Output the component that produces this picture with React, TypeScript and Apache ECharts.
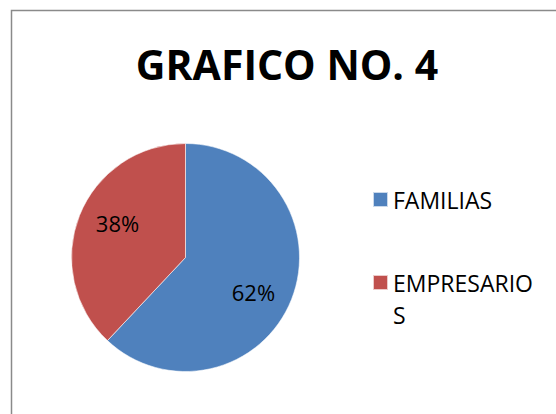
import React, { useEffect, useRef } from "react";
import * as echarts from "echarts";

const titleText = "GRAFICO NO. 4";
const categories = ["FAMILIAS", "EMPRESARIOS"];
const values = [62, 38];
const colors = ["#4F81BD", "#C0504D"];

export default function App() {
  const ref = useRef<HTMLDivElement>(null);
  useEffect(() => {
    if (!ref.current) return;
    const chart = echarts.init(ref.current, undefined, { renderer: "svg" });
    const data = categories.map((name, i) => ({ name, value: values[i], itemStyle: { color: colors[i] } }));
    const font = "'Open Sans', sans-serif";
    chart.setOption({
      animation: false,
      backgroundColor: "#ffffff",
      graphic: [
        {
          type: "rect",
          shape: { x: 11.5, y: 10.5, width: 700, height: 600 },
          style: { fill: "none", stroke: "#8a8a8a", lineWidth: 1.5 },
          silent: true,
        },
        {
          type: "text",
          x: 287,
          y: 64,
          style: {
            text: titleText,
            fontFamily: font,
            fontWeight: "bold",
            fontSize: 41,
            fill: "#000",
            align: "center",
            verticalAlign: "middle",
          },
        },
      ],
      legend: [
        {
          data: [{ name: categories[0], itemStyle: { color: colors[0] } }],
          orient: "vertical",
          left: 372,
          top: 188,
          padding: 0,
          itemWidth: 15,
          itemHeight: 15,
          icon: "rect",
          selectedMode: false,
          textStyle: { fontFamily: font, fontSize: 23, color: "#000" },
        },
        {
          data: [{ name: categories[1], itemStyle: { color: colors[1] } }],
          orient: "vertical",
          left: 372,
          top: 234.5,
          padding: 0,
          itemWidth: 15,
          itemHeight: 15,
          icon: "rect",
          selectedMode: false,
          formatter: (n: string) => "\n" + n.slice(0, 10) + "\n" + n.slice(10),
          textStyle: {
            fontFamily: font,
            fontSize: 23,
            color: "#000",
            lineHeight: 32,
          },
        },
      ],
      series: [
        {
          type: "pie",
          center: [185.5, 257.5],
          radius: [0, 114],
          startAngle: 90,
          clockwise: true,
          silent: true,
          label: { show: false },
          labelLine: { show: false },
          itemStyle: { borderColor: "rgba(255,255,255,0.7)", borderWidth: 0.8 },
          data,
        },
        {
          type: "pie",
          center: [185.5, 257.5],
          radius: [32, 114],
          startAngle: 85,
          clockwise: true,
          silent: true,
          labelLine: { show: false },
          itemStyle: { color: "transparent", borderWidth: 0 },
          label: {
            show: true,
            position: "inside",
            formatter: "{c}%",
            fontFamily: font,
            fontSize: 22,
            color: "#000",
          },
          data: categories.map((name, i) => ({ name, value: values[i] })),
        },
      ],
    });
    return () => chart.dispose();
  }, []);
  return (
    <div
      ref={ref}
      style={{ position: "absolute", left: 0, top: 0, width: 556, height: 414, background: "#fff" }}
    />
  );
}
